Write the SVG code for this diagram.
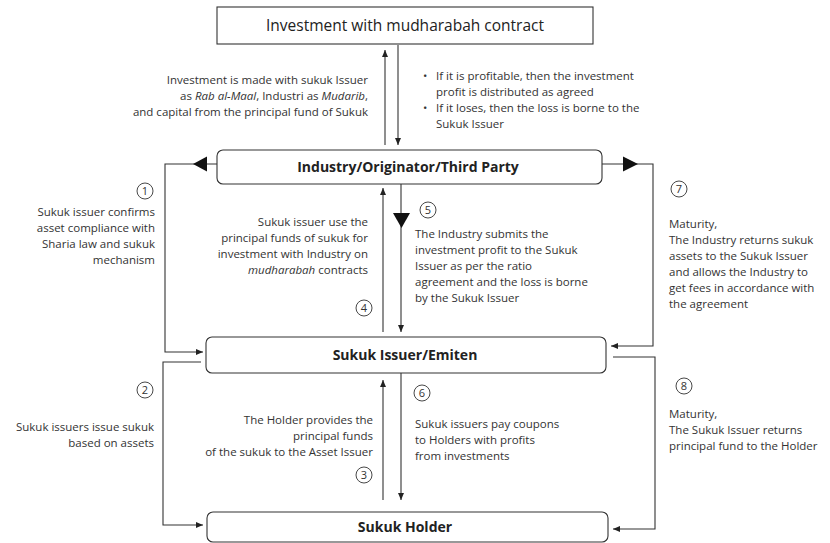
<svg xmlns="http://www.w3.org/2000/svg" width="830" height="543" viewBox="0 0 830 543">
<defs>
<style>
.box{fill:#fff;stroke:#333;stroke-width:1.1}
.ln{fill:none;stroke:#333;stroke-width:1.1}
.t{font-family:"Open Sans","Liberation Sans",sans-serif;font-size:11.5px;fill:#333}
.r{text-anchor:end}
.title{font-family:"Open Sans","Liberation Sans",sans-serif;font-size:15.5px;fill:#222;text-anchor:middle}
.bold{font-family:"Open Sans","Liberation Sans",sans-serif;font-size:14px;font-weight:bold;fill:#222;text-anchor:middle}
.num{fill:#fff;stroke:#333;stroke-width:0.9}
.nt{font-family:"Open Sans","Liberation Sans",sans-serif;font-size:11px;fill:#333;text-anchor:middle}
.tri{fill:#111}
</style>
<marker id="ah" markerWidth="7" markerHeight="6" refX="7" refY="3" orient="auto" markerUnits="userSpaceOnUse">
<path d="M0,0 L7,3 L0,6 z" fill="#222"/>
</marker>
</defs>
<rect width="830" height="543" fill="#fff"/>

<g id="connectors">
<line class="ln" x1="385" y1="145" x2="385" y2="50" marker-end="url(#ah)"/>
<line class="ln" x1="398" y1="45" x2="398" y2="145" marker-end="url(#ah)"/>
<line class="ln" x1="383" y1="332" x2="383" y2="188" marker-end="url(#ah)"/>
<line class="ln" x1="401" y1="184" x2="401" y2="332" marker-end="url(#ah)"/>
<polygon class="tri" points="393,213 410,213 401.5,228"/>
<line class="ln" x1="383" y1="500" x2="383" y2="380" marker-end="url(#ah)"/>
<line class="ln" x1="401" y1="373" x2="401" y2="500" marker-end="url(#ah)"/>
<path class="ln" d="M217,164 H165 V352 H203" marker-end="url(#ah)"/>
<polygon class="tri" points="193,164 207,156.5 207,171.5"/>
<path class="ln" d="M201,362 H163 V525 H203" marker-end="url(#ah)"/>
<path class="ln" d="M602,164 H653 V346 H611" marker-end="url(#ah)"/>
<polygon class="tri" points="638,164 623,156.5 623,171.5"/>
<path class="ln" d="M613,357 H655 V529 H613" marker-end="url(#ah)"/>
</g>

<g id="investment">
<rect class="box" x="217" y="7" width="376" height="37"/>
<text class="title" x="405" y="31">Investment with mudharabah contract</text>
</g>
<g id="industry">
<rect class="box" x="217" y="150" width="385" height="34" rx="6"/>
<text class="bold" x="408" y="172">Industry/Originator/Third Party</text>
</g>
<g id="issuer">
<rect class="box" x="206" y="337" width="400" height="36" rx="6"/>
<text class="bold" x="405" y="360">Sukuk Issuer/Emiten</text>
</g>
<g id="holder">
<rect class="box" x="207" y="512" width="401" height="30" rx="6"/>
<text class="bold" x="405" y="532">Sukuk Holder</text>
</g>

<g id="label-top-left">
<text class="t r" x="368" y="84">Investment is made with sukuk Issuer</text>
<text class="t r" x="368" y="100">as <tspan font-style="italic">Rab al-Maal</tspan>, Industri as <tspan font-style="italic">Mudarib</tspan>,</text>
<text class="t r" x="368" y="116">and capital from the principal fund of Sukuk</text>
</g>
<g id="label-top-right">
<text class="t" x="423" y="80">•</text>
<text class="t" x="436" y="80">If it is profitable, then the investment</text>
<text class="t" x="436" y="96">profit is distributed as agreed</text>
<text class="t" x="423" y="112">•</text>
<text class="t" x="436" y="112">If it loses, then the loss is borne to the</text>
<text class="t" x="436" y="128">Sukuk Issuer</text>
</g>

<g id="step1">
<circle class="num" cx="145" cy="191" r="8"/>
<text class="nt" x="145" y="195">1</text>
<text class="t r" x="155" y="216">Sukuk issuer confirms</text>
<text class="t r" x="155" y="232">asset compliance with</text>
<text class="t r" x="155" y="248">Sharia law and sukuk</text>
<text class="t r" x="155" y="264">mechanism</text>
</g>
<g id="step4">
<text class="t r" x="368" y="226">Sukuk issuer use the</text>
<text class="t r" x="368" y="242">principal funds of sukuk for</text>
<text class="t r" x="368" y="258">investment with Industry on</text>
<text class="t r" x="368" y="274"><tspan font-style="italic">mudharabah</tspan> contracts</text>
<circle class="num" cx="364" cy="308" r="8"/>
<text class="nt" x="364" y="312">4</text>
</g>
<g id="step5">
<circle class="num" cx="428" cy="210" r="8"/>
<text class="nt" x="428" y="214">5</text>
<text class="t" x="415" y="238">The Industry submits the</text>
<text class="t" x="415" y="254">investment profit to the Sukuk</text>
<text class="t" x="415" y="270">Issuer as per the ratio</text>
<text class="t" x="415" y="286">agreement and the loss is borne</text>
<text class="t" x="415" y="302">by the Sukuk Issuer</text>
</g>
<g id="step7">
<circle class="num" cx="679" cy="189" r="8"/>
<text class="nt" x="679" y="193">7</text>
<text class="t" x="669" y="228">Maturity,</text>
<text class="t" x="669" y="244">The Industry returns sukuk</text>
<text class="t" x="669" y="260">assets to the Sukuk Issuer</text>
<text class="t" x="669" y="276">and allows  the Industry to</text>
<text class="t" x="669" y="292">get fees in accordance with</text>
<text class="t" x="669" y="308">the agreement</text>
</g>
<g id="step2">
<circle class="num" cx="145" cy="390" r="8"/>
<text class="nt" x="145" y="394">2</text>
<text class="t r" x="154" y="431">Sukuk issuers issue sukuk</text>
<text class="t r" x="154" y="447">based on assets</text>
</g>
<g id="step3">
<text class="t r" x="373" y="424">The Holder provides the</text>
<text class="t r" x="373" y="440">principal funds</text>
<text class="t r" x="373" y="456">of the sukuk to the Asset Issuer</text>
<circle class="num" cx="364" cy="475" r="8"/>
<text class="nt" x="364" y="479">3</text>
</g>
<g id="step6">
<circle class="num" cx="422" cy="393" r="8"/>
<text class="nt" x="422" y="397">6</text>
<text class="t" x="415" y="428">Sukuk issuers pay coupons</text>
<text class="t" x="415" y="444">to Holders with profits</text>
<text class="t" x="415" y="460">from investments</text>
</g>
<g id="step8">
<circle class="num" cx="684" cy="386" r="8"/>
<text class="nt" x="684" y="390">8</text>
<text class="t" x="669" y="418">Maturity,</text>
<text class="t" x="669" y="434">The Sukuk Issuer returns</text>
<text class="t" x="669" y="450">principal fund to the Holder</text>
</g>
</svg>
